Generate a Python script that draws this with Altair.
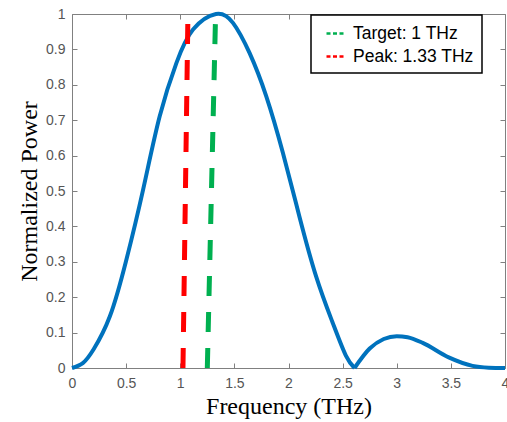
import altair as alt
import pandas as pd

# Main lobe of the spectrum (Frequency THz, normalized power)
main_f = [0.00, 0.10, 0.20, 0.35, 0.50, 0.657, 0.81, 0.965, 1.118, 1.33, 1.487, 1.64, 1.794, 1.948, 2.10, 2.255, 2.408, 2.53, 2.61]
main_p = [0.000, 0.014, 0.053, 0.146, 0.303, 0.504, 0.711, 0.862, 0.956, 1.000, 0.975, 0.890, 0.768, 0.608, 0.429, 0.259, 0.128, 0.035, 0.000]

# Side lobe
side_f = [2.61, 2.75, 2.88, 3.00, 3.10, 3.24, 3.48, 3.70, 3.85, 4.00]
side_p = [0.000, 0.055, 0.082, 0.090, 0.087, 0.071, 0.030, 0.006, 0.001, 0.000]

# Dashed marker lines (bottom and top points)
series_names = ["Target: 1 THz", "Peak: 1.33 THz"]
series_colors = ["#00B050", "#FF0000"]
target_f = [1.25, 1.325]
target_p = [0.0, 0.98]
peak_f = [1.025, 1.07]
peak_p = [0.0, 0.98]

x_ticks = [0, 0.5, 1, 1.5, 2, 2.5, 3, 3.5, 4]
y_ticks = [0, 0.1, 0.2, 0.3, 0.4, 0.5, 0.6, 0.7, 0.8, 0.9, 1.0]

main_df = pd.DataFrame({"f": main_f, "p": main_p})
side_df = pd.DataFrame({"f": side_f, "p": side_p})
dash = pd.DataFrame({
    "f": target_f + peak_f,
    "p": target_p + peak_p,
    "series": [series_names[0]] * 2 + [series_names[1]] * 2,
})

xscale = alt.Scale(domain=[0, 4], nice=False, zero=False)
yscale = alt.Scale(domain=[0, 1], nice=False)

TICK_FONT = "Liberation Sans"
TITLE_FONT = "Liberation Serif"
TICK_COLOR = "#555555"
FRAME = "#808080"
BLUE = "#0072BD"

common_axis = dict(
    grid=False, domain=False, tickSize=5, offset=-5, tickColor=FRAME,
    labelFont=TICK_FONT, labelFontSize=14, labelColor=TICK_COLOR,
    titleFont=TITLE_FONT, titleFontSize=24, titleColor="black", titleFontWeight="normal",
    labelFlush=False, labelOverlap=False, format="~g",
)

x_bottom = alt.Axis(orient="bottom", values=x_ticks, title="Frequency  (THz)",
                    labelPadding=8, titlePadding=4, **common_axis)
y_left = alt.Axis(orient="left", values=y_ticks, title="Normalized Power",
                  labelPadding=7, titlePadding=4, **common_axis)
x_top = alt.Axis(orient="top", values=x_ticks, title=None, labels=False,
                 grid=False, domain=False, tickSize=5, offset=-5, tickColor=FRAME)
y_right = alt.Axis(orient="right", values=y_ticks, title=None, labels=False,
                   grid=False, domain=False, tickSize=5, offset=-5, tickColor=FRAME)

main_layer = alt.Chart(main_df).mark_line(
    interpolate="natural", strokeWidth=4, color=BLUE
).encode(
    x=alt.X("f:Q", scale=xscale, axis=x_bottom),
    y=alt.Y("p:Q", scale=yscale, axis=y_left),
)

side_layer = alt.Chart(side_df).mark_line(
    interpolate="monotone", strokeWidth=4, color=BLUE
).encode(
    x=alt.X("f:Q", scale=xscale, axis=None),
    y=alt.Y("p:Q", scale=yscale, axis=None),
)

dash_layer = alt.Chart(dash).mark_line(
    strokeWidth=5, strokeDash=[20, 16]
).encode(
    x=alt.X("f:Q", scale=xscale, axis=x_top),
    y=alt.Y("p:Q", scale=yscale, axis=y_right),
    color=alt.Color(
        "series:N",
        scale=alt.Scale(domain=series_names, range=series_colors),
        sort=series_names,
        legend=alt.Legend(
            title=None, orient="none", legendX=239, legendY=1,
            fillColor="white", strokeColor="black", padding=8,
            symbolType="stroke", symbolSize=324, symbolStrokeWidth=2.5,
            symbolDash=[4, 2.5], symbolOffset=6, labelOffset=7,
            labelFont=TICK_FONT, labelFontSize=17.5, labelColor="black",
            rowPadding=4,
        ),
    ),
)

chart = alt.layer(main_layer, side_layer, dash_layer).resolve_axis(
    x="independent", y="independent"
).properties(
    width=433, height=354,
    autosize=alt.AutoSizeParams(type="none"),
    padding={"left": 72, "top": 14, "right": 2, "bottom": 54},
    background="white",
).configure_view(
    stroke=FRAME, strokeWidth=1
).configure_legend(
    strokeWidth=1.5
)

chart.save("out.html", embed_options={"renderer": "svg", "actions": False})
